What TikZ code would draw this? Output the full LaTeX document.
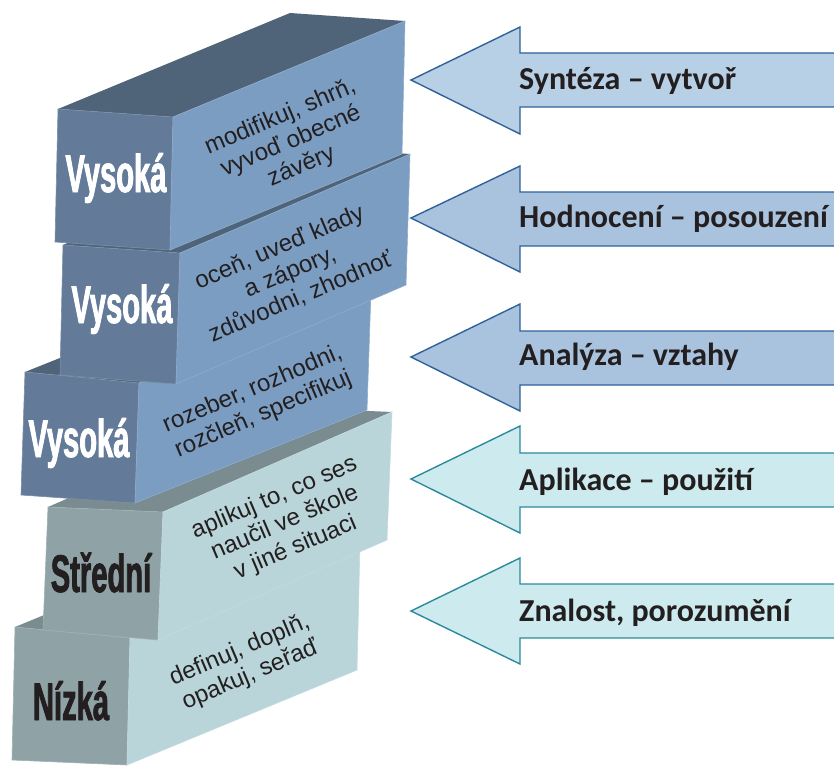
\documentclass[tikz,border=0pt]{standalone}
\usepackage{fontspec}
\setmainfont{Liberation Sans}
\newfontfamily\labelfont{Carlito}
\newfontfamily\narrowfont[FakeStretch=0.55, FakeBold=1.5]{Liberation Sans}
\usetikzlibrary{positioning}

\definecolor{bfront}{HTML}{637B99}
\definecolor{btop}{HTML}{4F6479}
\definecolor{bright}{HTML}{7B9DC2}
\definecolor{gfront}{HTML}{8FA3A6}
\definecolor{gtop}{HTML}{7A8C8F}
\definecolor{gright}{HTML}{B9D5D9}
\definecolor{arrowblue}{HTML}{2F629A}
\definecolor{fillblue}{HTML}{A9C3DF}
\definecolor{fillpale}{HTML}{B8D0E6}
\definecolor{arrowteal}{HTML}{2B8A9B}
\definecolor{fillteal}{HTML}{CDEBEF}
\definecolor{textdark}{HTML}{231F20}

\tikzstyle{bluefront} =[fill=bfront, draw=bfront!85!white, line width=0.6pt]
\tikzstyle{bluetop} =[fill=btop]
\tikzstyle{blueright} =[fill=bright, draw=bright!85!white, line width=0.6pt]
\tikzstyle{greyfront} =[fill=gfront, draw=gfront!85!white, line width=0.6pt]
\tikzstyle{greytop} =[fill=gtop]
\tikzstyle{greyright} =[fill=gright, draw=gright!85!white, line width=0.6pt]
\tikzstyle{level} =[font=\narrowfont\bfseries\fontsize{53}{53}\selectfont, anchor=base, inner sep=0pt]
\tikzstyle{highlevel} =[level, text=white]
\tikzstyle{lowlevel} =[level, text=textdark]
\tikzstyle{verbs} =[font=\fontsize{24}{27}\selectfont, align=center, rotate=23, text=textdark, inner sep=0pt]
\tikzstyle{blockarrow} =[draw=arrowblue, line width=1.4pt, line join=miter]
\tikzstyle{tealarrow} =[draw=arrowteal, line width=1.4pt, line join=miter, fill=fillteal]
\tikzstyle{arrowlabel} =[font=\labelfont\bfseries\fontsize{32}{32}\selectfont, anchor=base west, inner sep=0pt, text=textdark]

\begin{document}
\begin{tikzpicture}[x=1pt, y=-1pt]
\useasboundingbox (0,0) rectangle (834,765);

% Nizka
\fill [greytop] (15,627) -- (245,532) -- (360,543) -- (130,638) -- cycle;
\filldraw [greyfront] (15,627) -- (130,638) -- (127,765) -- (12,760) -- cycle;
\filldraw [greyright] (130,638) -- (360,543) -- (357,670) -- (127,765) -- cycle;
% Stredni
\fill [greytop] (48,507) -- (277,407) -- (392,412) -- (163,512) -- cycle;
\filldraw [greyfront] (48,507) -- (163,512) -- (158,640) -- (43,630) -- cycle;
\filldraw [greyright] (163,512) -- (392,412) -- (387,540) -- (158,640) -- cycle;
% Vysoka 3
\fill [bluetop] (25,372) -- (257,279) -- (371,290) -- (139,383) -- cycle;
\filldraw [bluefront] (25,372) -- (139,383) -- (135,503) -- (21,495) -- cycle;
\filldraw [blueright] (139,383) -- (371,290) -- (367,410) -- (135,503) -- cycle;
% Vysoka 2
\fill [bluetop] (63,245) -- (293,146) -- (410,154) -- (180,253) -- cycle;
\filldraw [bluefront] (63,245) -- (180,253) -- (176,384) -- (60,375) -- cycle;
\filldraw [blueright] (180,253) -- (410,154) -- (406,285) -- (176,384) -- cycle;
% Vysoka 1
\fill [bluetop] (58,109) -- (290,13) -- (405,21) -- (173,117) -- cycle;
\filldraw [bluefront] (58,109) -- (173,117) -- (170,250) -- (55,242) -- cycle;
\filldraw [blueright] (173,117) -- (405,21) -- (402,154) -- (170,250) -- cycle;

\node (lvl1) [highlevel] at (116,192) {Vysoká};
\node (lvl2) [highlevel] at (122,323) {Vysoká};
\node (lvl3) [highlevel] at (79,457) {Vysoká};
\node (lvl4) [lowlevel] at (101,592) {Střední};
\node (lvl5) [lowlevel] at (71,720) {Nízká};

\node (verb1) [verbs] at (291,142) {modifikuj, shrň,\\vyvoď obecné\\závěry};
\node (verb2) [verbs] at (290,272) {oceň, uveď klady\\a zápory,\\zdůvodni, zhodnoť};
\node (verb3) [verbs] at (258,402) {rozeber, rozhodni,\\rozčleň, specifikuj};
\node (verb4) [verbs] at (285,523) {aplikuj to, co ses\\naučil ve škole\\v jiné situaci};
\node (verb5) [verbs] at (245,663) {definuj, doplň,\\opakuj, seřaď};

% arrows
\draw [blockarrow, fill=fillpale] (850,53) -- (520,53) -- (520,27) -- (411,80) -- (520,134) -- (520,107) -- (850,107) -- cycle;
\draw [blockarrow, fill=fillblue] (850,192) -- (520,192) -- (520,166) -- (411,218) -- (520,272) -- (520,246) -- (850,246) -- cycle;
\draw [blockarrow, fill=fillblue] (850,331) -- (520,331) -- (520,304) -- (411,357) -- (520,411) -- (520,385) -- (850,385) -- cycle;
\draw [tealarrow] (850,453) -- (520,453) -- (520,426) -- (411,479) -- (520,533) -- (520,507) -- (850,507) -- cycle;
\draw [tealarrow] (850,584) -- (520,584) -- (520,558) -- (411,611) -- (520,664) -- (520,638) -- (850,638) -- cycle;

\node (syn) [arrowlabel] at (519,90) {Syntéza – vytvoř};
\node (hod) [arrowlabel] at (519,227) {Hodnocení – posouzení};
\node (ana) [arrowlabel] at (519,365) {Analýza – vztahy};
\node (apl) [arrowlabel] at (519,490) {Aplikace – použití};
\node (zna) [arrowlabel] at (519,621) {Znalost, porozumění};
\end{tikzpicture}
\end{document}
